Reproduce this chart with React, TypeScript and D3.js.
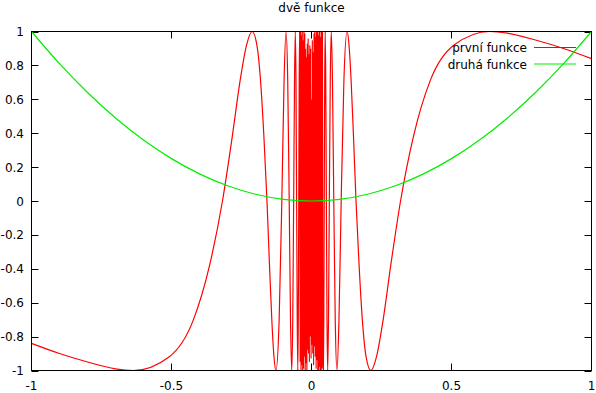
import React from "react";
import * as d3 from "d3";

// values: first function (red), x and y
const firstX = [
  -1.0, -0.9, -0.8, -0.7, -0.637, -0.509, -0.424, -0.364, -0.318, -0.283, -0.255, -0.232,
  -0.212, -0.195, -0.182, -0.17, -0.159, -0.15, -0.1415, -0.134, -0.127, -0.1157, -0.106,
  -0.098, -0.0909, -0.0849, -0.0796, -0.0749, -0.0707, -0.067, -0.0637, -0.0606, -0.0579,
  -0.0554, -0.0531, -0.0509, -0.049, -0.0472, -0.0455, -0.0439, -0.0424,
  -0.0405, -0.039, -0.0375, -0.036, -0.0345, -0.033, -0.0315, -0.03, -0.0285, -0.027,
  -0.0255, -0.024, -0.0225, -0.021, -0.0195, -0.018, -0.0165, -0.015, -0.0135, -0.012,
  -0.0105, -0.009, -0.0075, -0.006, -0.0045, -0.003, -0.0015, 0, 0.0015, 0.003, 0.0045,
  0.006, 0.0075, 0.009, 0.0105, 0.012, 0.0135, 0.015, 0.0165, 0.018, 0.0195, 0.021, 0.0225,
  0.024, 0.0255, 0.027, 0.0285, 0.03, 0.0315, 0.033, 0.0345, 0.036, 0.0375, 0.039, 0.0405,
  0.0424, 0.0439, 0.0455, 0.0472, 0.049, 0.0509, 0.0531, 0.0554, 0.0579, 0.0606, 0.0637,
  0.067, 0.0707, 0.0749, 0.0796, 0.0849, 0.0909, 0.098, 0.106, 0.1157, 0.127, 0.134,
  0.1415, 0.15, 0.159, 0.17, 0.182, 0.195, 0.212, 0.232, 0.255, 0.283, 0.318, 0.364,
  0.424, 0.509, 0.637, 0.7, 0.8, 0.9, 1.0,
];
const firstY = [
  -0.84, -0.9, -0.95, -0.99, -1, -0.92, -0.71, -0.38, 0, 0.38, 0.71, 0.92,
  1, 0.92, 0.71, 0.38, 0, -0.38, -0.71, -0.92, -1, -0.71, 0,
  0.71, 1, 0.71, 0, -0.71, -1, -0.71, 0, 0.71, 1,
  0.71, 0, -0.71, -1, -0.71, 0, 0.71, 1,
  -0.95, 1, -1, 0.98, -0.97, 1, -1, 0.95, -0.99, 1,
  -0.92, 0.99, -1, 0.9, -0.96, 0.85, -1, 0.93, -0.88, 0.96,
  -0.9, 0.87, -0.95, 0.92, -0.8, 0.9, -0.93, 0.6, -0.85, 0.95, -0.9,
  0.88, -0.97, 0.99, -0.86, 1, -0.92, 0.97, -0.99, 1, -0.94, 1, -1,
  0.98, -1, 1, -0.98, 1, -1, 0.97, -1, 1, -0.99, 1, -0.9,
  -1, -0.71, 0, 0.71, 1, 0.71, 0, -0.71, -1, -0.71, 0,
  0.71, 1, 0.71, 0, -0.71, -1, -0.71, 0, 0.71, 1, 0.92,
  0.71, 0.38, 0, -0.38, -0.71, -0.92, -1, -0.92, -0.71, -0.38, 0, 0.38,
  0.71, 0.92, 1, 0.99, 0.95, 0.9, 0.84,
];

// second function (green)
const secondX = [-1, -0.9, -0.8, -0.7, -0.6, -0.5, -0.4, -0.3, -0.2, -0.1, 0, 0.1, 0.2, 0.3, 0.4, 0.5, 0.6, 0.7, 0.8, 0.9, 1];
const secondY = [1, 0.81, 0.64, 0.49, 0.36, 0.25, 0.16, 0.09, 0.04, 0.01, 0, 0.01, 0.04, 0.09, 0.16, 0.25, 0.36, 0.49, 0.64, 0.81, 1];

const xTicks = [-1, -0.5, 0, 0.5, 1];
const yTicks = [-1, -0.8, -0.6, -0.4, -0.2, 0, 0.2, 0.4, 0.6, 0.8, 1];
const seriesNames = ["první funkce", "druhá funkce"];
const seriesColors = ["#ff0000", "#00ee00"];
const title = "dvě funkce";

export default function App() {
  const width = 596;
  const height = 393;
  const left = 31.5, right = 591.5, top = 31.5, bottom = 370.5;
  const tick = 7;

  const x = d3.scaleLinear().domain([-1, 1]).range([left, right]);
  const y = d3.scaleLinear().domain([-1, 1]).range([bottom, top]);

  const line = d3.line<[number, number]>()
    .x(d => x(d[0]))
    .y(d => y(d[1]))
    .curve(d3.curveMonotoneX);

  const first = firstX.map((v, i) => [v, firstY[i]] as [number, number]);
  const second = secondX.map((v, i) => [v, secondY[i]] as [number, number]);

  const font = "DejaVu Sans, sans-serif";

  return (
    <div>
      <style>{`body{margin:0}`}</style>
      <svg width={width} height={height} style={{ display: "block", background: "#fff" }} fontFamily={font} fontSize={12}>
        <defs>
          <clipPath id="plot">
            <rect x={left} y={top - 1} width={right - left} height={bottom - top + 2} />
          </clipPath>
        </defs>

        {/* ticks, mirrored on all sides */}
        <g stroke="#000" strokeWidth={1}>
          {yTicks.map(t => (
            <g key={"y" + t}>
              <line x1={left} x2={left + tick} y1={Math.round(y(t)) + 0.5} y2={Math.round(y(t)) + 0.5} />
              <line x1={right} x2={right - tick} y1={Math.round(y(t)) + 0.5} y2={Math.round(y(t)) + 0.5} />
            </g>
          ))}
          {xTicks.map(t => (
            <g key={"x" + t}>
              <line x1={x(t)} x2={x(t)} y1={bottom} y2={bottom - tick} />
              <line x1={x(t)} x2={x(t)} y1={top} y2={top + tick} />
            </g>
          ))}
        </g>

        {yTicks.map(t => (
          <text key={"yl" + t} x={24} y={y(t) + 4.5} textAnchor="end" fill="#000">
            {String(t)}
          </text>
        ))}
        {xTicks.map(t => (
          <text key={"xl" + t} x={x(t)} y={390} textAnchor="middle" fill="#000">
            {String(t)}
          </text>
        ))}

        <text x={(left + right) / 2} y={12} textAnchor="middle" fill="#000">{title}</text>

        <g clipPath="url(#plot)" fill="none" strokeWidth={1.2}>
          <path d={line(first) ?? ""} stroke={seriesColors[0]} />
          <path d={line(second) ?? ""} stroke={seriesColors[1]} />
        </g>

        {/* legend */}
        {seriesNames.map((name, i) => (
          <g key={name}>
            <text x={527} y={52 + i * 16.5} textAnchor="end" fill="#000">{name}</text>
            <line x1={534} x2={576} y1={47.5 + i * 16.5} y2={47.5 + i * 16.5} stroke={seriesColors[i]} strokeWidth={1.2} />
          </g>
        ))}

        <rect x={left} y={top} width={right - left} height={bottom - top} fill="none" stroke="#000" />
      </svg>
    </div>
  );
}
